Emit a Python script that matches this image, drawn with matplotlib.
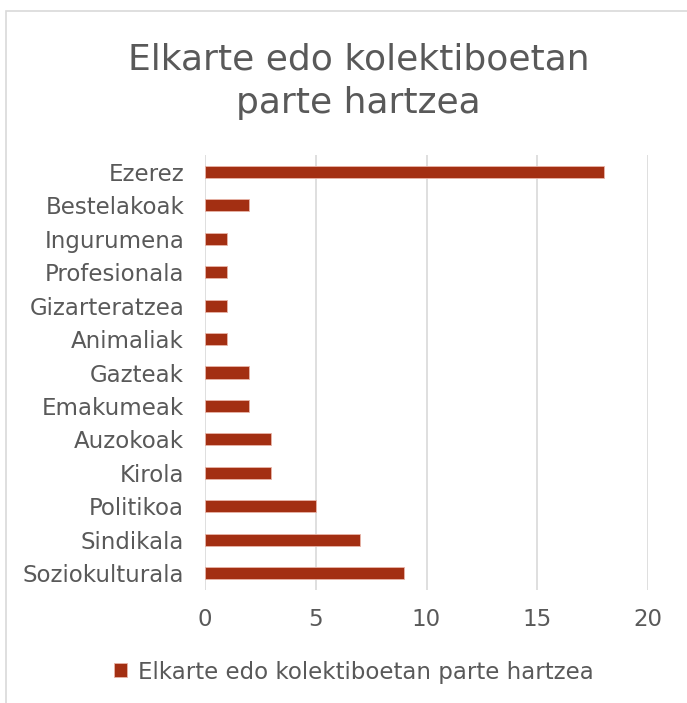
import matplotlib.pyplot as plt
from matplotlib.patches import Rectangle

categorias = ["Soziokulturala", "Sindikala", "Politikoa", "Kirola", "Auzokoak",
              "Emakumeak", "Gazteak", "Animaliak", "Gizarteratzea", "Profesionala",
              "Ingurumena", "Bestelakoak", "Ezerez"]
balioak = [9, 7, 5, 3, 3, 2, 2, 1, 1, 1, 1, 2, 18]
x_ticks = [0, 5, 10, 15, 20]
izenburua = "Elkarte edo kolektiboetan\nparte hartzea"
serie_izena = "Elkarte edo kolektiboetan parte hartzea"

gris = "#595959"
plt.rcParams['font.family'] = ['DejaVu Sans']

fig = plt.figure(figsize=(6.87, 7.03), dpi=100)
# marco del grafico
fig.patches.append(Rectangle((6/687, -0.01), 1.0, 1 - 11/703 + 0.01, transform=fig.transFigure,
                             fill=False, edgecolor="#D9D9D9", linewidth=1.2))

ax = fig.add_axes([205/687, 1 - 590/703, 443/687, 435/703])
y = range(len(categorias))
ax.barh(y, balioak, height=0.36, color="#A32F12", edgecolor="#E8B4A8", linewidth=0.6,
        label=serie_izena, zorder=3)
ax.set_xlim(0, 20)
ax.set_ylim(-0.5, len(categorias) - 0.5)
ax.set_xticks(x_ticks)
ax.set_yticks(list(y))
ax.set_yticklabels(categorias)
ax.tick_params(length=0, colors=gris, labelsize=16.5)
ax.tick_params(axis='x', pad=13)
ax.tick_params(axis='y', pad=15)
ax.grid(axis='x', color="#D9D9D9", linewidth=1.2, zorder=0)
for s in ax.spines.values():
    s.set_visible(False)

fig.text(0.522, 1 - 81/703, izenburua, ha='center', va='center', fontsize=26,
         color=gris, linespacing=1.35)

fig.legend(loc='center', bbox_to_anchor=(0.515, 1 - 672/703), frameon=False,
           fontsize=16.5, labelcolor=gris, handlelength=0.55, handleheight=0.55,
           handletextpad=0.5)

fig.savefig("out.png", dpi=100)
